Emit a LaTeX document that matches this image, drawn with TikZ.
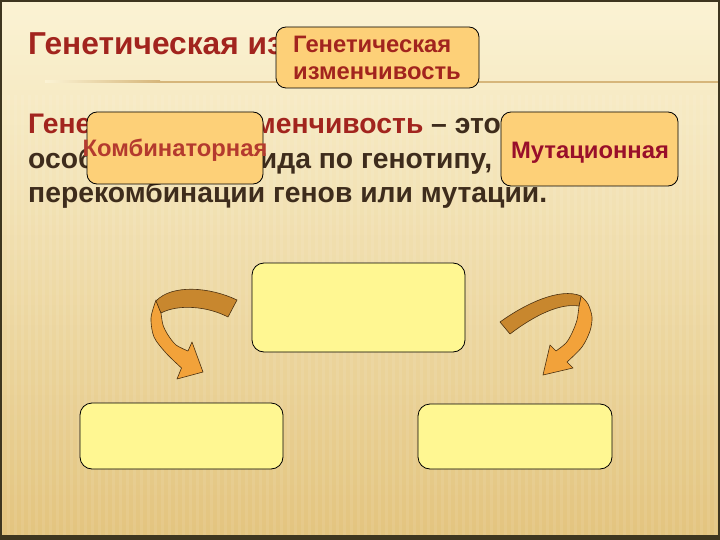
\documentclass[tikz,border=0pt]{standalone}
\usepackage{fontspec}
\setmainfont{Liberation Sans}
\definecolor{bgtop}{HTML}{FBF3D4}
\definecolor{bgbot}{HTML}{E3C47E}
\definecolor{frame}{HTML}{3E3620}
\definecolor{titlered}{HTML}{A2241E}
\definecolor{bodydark}{HTML}{3E2C1C}
\definecolor{kombred}{HTML}{B43A2E}
\definecolor{mutred}{HTML}{990F2A}
\definecolor{boxorange}{HTML}{FDD078}
\definecolor{boxyellow}{HTML}{FFF792}
\definecolor{arrlight}{HTML}{F2A23A}
\definecolor{arrdark}{HTML}{C8872E}
\definecolor{arredge}{HTML}{4A3010}
\definecolor{ruleline}{HTML}{D6B67A}
\begin{document}
\begin{tikzpicture}[x=1pt,y=-1pt,
  obox/.style={draw=black, line width=0.8pt, fill=boxorange, rounded corners=10pt, inner sep=0pt},
  ybox/.style={draw=black, line width=0.8pt, fill=boxyellow, rounded corners=12pt, inner sep=0pt},
  boxtxt/.style={font=\fontsize{23.8}{27}\selectfont\bfseries, inner sep=0pt, anchor=base},
  bodytxt/.style={anchor=base west, inner sep=0pt, font=\fontsize{28.3}{32}\selectfont\bfseries, text=bodydark},
  lightpart/.style={fill=arrlight, draw=arredge, line width=0.6pt, line join=round},
  darkpart/.style={fill=arrdark, draw=arredge, line width=0.6pt, line join=round}]
\useasboundingbox (0,0) rectangle (720,540);
% background: cream at top, tan at bottom
\foreach \i in {0,...,107} {
  \pgfmathsetmacro{\p}{\i*100/107}
  \fill[bgbot!\p!bgtop] (0,\i*5) rectangle (720,\i*5+5.2);
}
\foreach \s in {0,7,...,720} \fill[white, opacity=0.08] (\s,95) rectangle (\s+3,535);
% frame
\fill[frame] (0,0) rectangle (720,2);
\fill[frame] (0,0) rectangle (2,540);
\fill[frame] (718,0) rectangle (720,540);
\fill[frame] (0,535) rectangle (720,540);
% rule under title
\shade[left color=bgtop, right color=ruleline] (45,81) rectangle (160,83);
\fill[ruleline] (160,81) rectangle (718,83);
% title
\node[anchor=base west, inner sep=0pt, font=\fontsize{31.7}{36}\selectfont\bfseries, text=titlered] (title) at (28,55) {Генетическая изменчивость};
% body text
\node[bodytxt] (line1) at (28,134) {\textcolor{titlered}{Генетическая изменчивость} – это различия};
\node[bodytxt] (line2) at (28,169) {особей одного вида по генотипу, вследствие};
\node[bodytxt] (line3) at (28,203) {перекомбинации генов или мутации.};
% orange boxes
\node[obox, minimum width=203pt, minimum height=61pt] (gen) at (377.5,57.5) {};
\node[boxtxt, text=titlered, anchor=base west] (gent1) at (293,53) {Генетическая};
\node[boxtxt, text=titlered, anchor=base west] (gent2) at (293,80) {изменчивость};
\node[obox, minimum width=176pt, minimum height=72pt] (komb) at (175,148) {};
\node[boxtxt, text=kombred] (kombt) at (175,157) {Комбинаторная};
\node[obox, minimum width=177pt, minimum height=74pt] (mut) at (589.5,149) {};
\node[boxtxt, text=mutred] (mutt) at (590,159) {Мутационная};
% yellow boxes
\node[ybox, minimum width=213pt, minimum height=89pt] (core) at (358.5,307.5) {};
\node[ybox, minimum width=203pt, minimum height=66pt] (left) at (181.5,436) {};
\node[ybox, minimum width=194pt, minimum height=65pt] (right) at (515,436.5) {};
% left curved arrow
\path[lightpart] plot[smooth] coordinates {(156,300) (151,318) (154,337) (166,353) (181.5,368)}
  -- (177,379) -- (203,372) -- (192,342) -- (188,351)
  -- plot[smooth] coordinates {(188,351) (176,345) (168,335) (163,325) (161,313)} -- cycle;
\path[darkpart] (237,300) .. controls (210,287) and (172,284) .. (156,301)
  -- (161,313) .. controls (178,304) and (207,306) .. (228,317) -- cycle;
% right curved arrow
\path[lightpart] plot[smooth] coordinates {(581,296) (588,304) (592,317) (590,331) (582,347) (567,362)}
  -- (573,368) -- (543,375) -- (550,345) -- (556,351)
  -- plot[smooth] coordinates {(556,351) (566,343) (572,333) (577,320) (579,306)} -- cycle;
\path[darkpart] (500,322) .. controls (525,304) and (560,287) .. (581,296)
  -- (579,306) .. controls (560,303) and (535,315) .. (510,334) -- cycle;
\end{tikzpicture}
\end{document}
